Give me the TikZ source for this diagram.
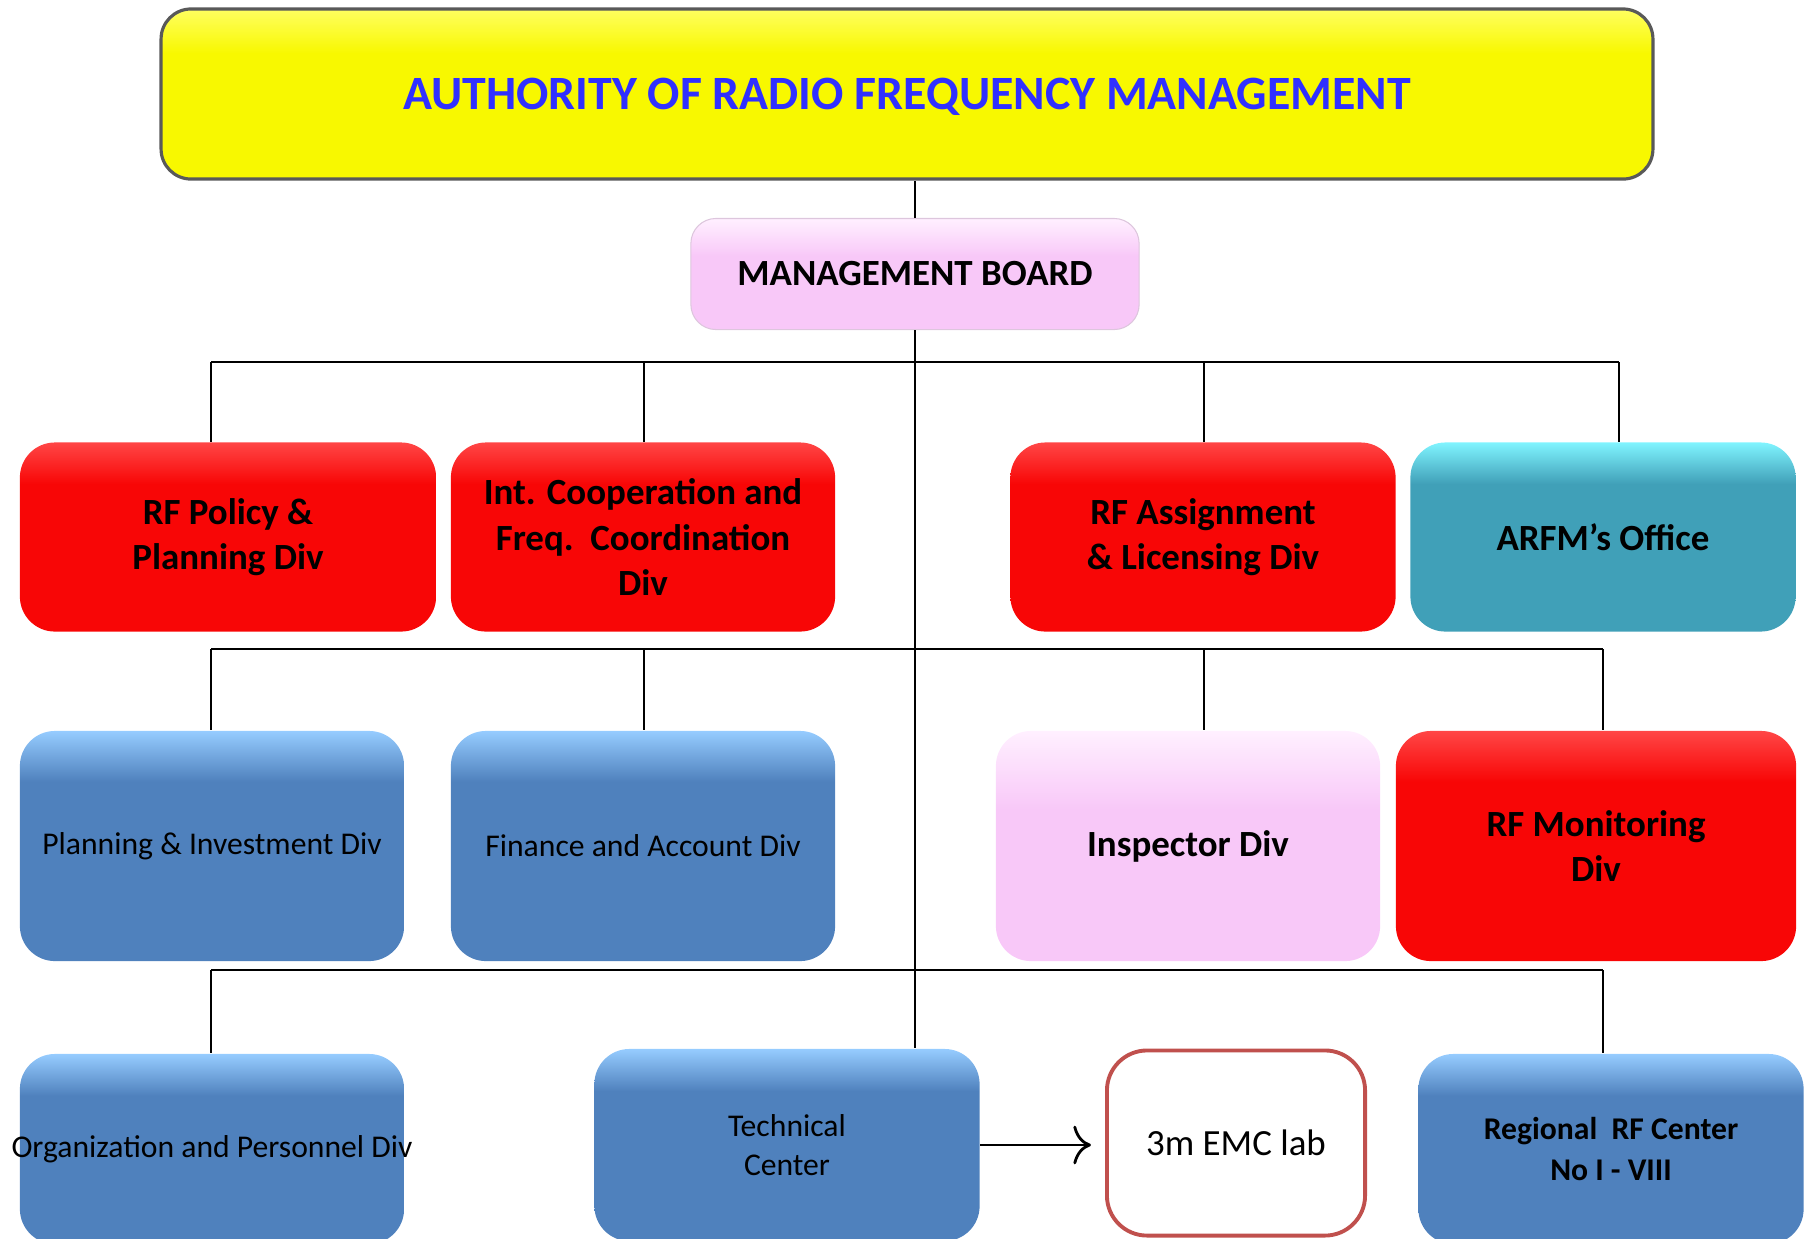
\documentclass[tikz,border=0pt]{standalone}
\usepackage{fontspec}
\setmainfont{Carlito}
\usepackage{tikz}
\usetikzlibrary{positioning,shapes,arrows,arrows.meta}
\definecolor{titlemain}{HTML}{F8F800}
\definecolor{titletop}{HTML}{FFFF60}
\definecolor{titletext}{HTML}{3030FF}
\definecolor{pinkmain}{HTML}{F8C8F8}
\definecolor{pinktop}{HTML}{FFF0FF}
\definecolor{redmain}{HTML}{F80606}
\definecolor{redtop}{HTML}{FF4646}
\definecolor{tealmain}{HTML}{40A0B8}
\definecolor{tealtop}{HTML}{80F4FF}
\definecolor{bluemain}{HTML}{4F81BD}
\definecolor{bluetop}{HTML}{96CCFF}
\definecolor{labedge}{HTML}{C0504D}
\pgfdeclareverticalshading{titlegloss}{100bp}{color(0bp)=(titlemain); color(25bp)=(titlemain); color(62bp)=(titlemain); color(75bp)=(titletop); color(100bp)=(titletop)}
\pgfdeclareverticalshading{pinkgloss}{100bp}{color(0bp)=(pinkmain); color(25bp)=(pinkmain); color(58bp)=(pinkmain); color(75bp)=(pinktop); color(100bp)=(pinktop)}
\pgfdeclareverticalshading{redgloss}{100bp}{color(0bp)=(redmain); color(25bp)=(redmain); color(64bp)=(redmain); color(75bp)=(redtop); color(100bp)=(redtop)}
\pgfdeclareverticalshading{tealgloss}{100bp}{color(0bp)=(tealmain); color(25bp)=(tealmain); color(64bp)=(tealmain); color(75bp)=(tealtop); color(100bp)=(tealtop)}
\pgfdeclareverticalshading{bluegloss}{100bp}{color(0bp)=(bluemain); color(25bp)=(bluemain); color(64bp)=(bluemain); color(75bp)=(bluetop); color(100bp)=(bluetop)}
\newcommand{\headfont}{\fontsize{13.6}{16}\selectfont\bfseries}
\newcommand{\divbold}{\fontsize{10.5}{12.8}\selectfont\bfseries}
\newcommand{\divplain}{\fontsize{9}{11}\selectfont}
\newcommand{\smallbold}{\fontsize{9}{11.4}\selectfont\bfseries}

\begin{document}
\begin{tikzpicture}[x=0.01cm, y=-0.01cm,
unit/.style={rectangle, rounded corners=0.35cm, align=center, inner sep=2pt, text=black},
headunit/.style={unit, rounded corners=0.3cm, shade, shading=titlegloss, draw=black!65, line width=0.9pt, text=titletext, font=\headfont, text depth=0pt, minimum width=14.91cm, minimum height=1.70cm},
boardunit/.style={unit, rounded corners=0.25cm, shade, shading=pinkgloss, draw=pinkmain!80!black!60, line width=0.3pt, font=\divbold, minimum width=4.48cm, minimum height=1.11cm},
redunit/.style={unit, shade, shading=redgloss, font=\divbold},
tealunit/.style={unit, shade, shading=tealgloss, font=\divbold},
blueunit/.style={unit, shade, shading=bluegloss, font=\divplain},
pinkunit/.style={unit, shade, shading=pinkgloss, font=\divbold},
labunit/.style={unit, rounded corners=0.4cm, fill=white, draw=labedge, line width=1.1pt, font=\fontsize{10.5}{12.8}\selectfont},
link/.style={draw=black, line width=0.4pt},
bus/.style={draw=black, line width=0.8pt}
]
\useasboundingbox (0,0) rectangle (1812,1238);
\clip (0,0) rectangle (1812,1238);

%Nodes
\node[headunit] (title) at (907,94) {AUTHORITY OF RADIO FREQUENCY MANAGEMENT};
\node[boardunit] (board) at (915,274) {MANAGEMENT BOARD};

\node[redunit, minimum width=4.16cm, minimum height=1.89cm] (policy) at (228,537) {RF Policy \&\\Planning Div};
\node[redunit, minimum width=3.84cm, minimum height=1.89cm] (coop) at (643,537) {Int. Cooperation and\\Freq.\ \ Coordination\\Div};
\node[redunit, minimum width=3.85cm, minimum height=1.89cm] (assign) at (1203,537) {RF Assignment\\\& Licensing Div};
\node[tealunit, minimum width=3.85cm, minimum height=1.89cm] (office) at (1603,537) {ARFM’s Office};

\node[blueunit, minimum width=3.84cm, minimum height=2.30cm] (planinv) at (212,846) {Planning \& Investment Div};
\node[blueunit, minimum width=3.84cm, minimum height=2.30cm] (finance) at (643,846) {Finance and Account Div};
\node[pinkunit, minimum width=3.84cm, minimum height=2.30cm] (inspector) at (1188,846) {Inspector Div};
\node[redunit, minimum width=4.00cm, minimum height=2.30cm] (monitor) at (1596,846) {RF Monitoring\\Div};

\node[blueunit, minimum width=3.84cm, minimum height=1.90cm, label={[font=\divplain]center:Organization and Personnel Div}] (orgpers) at (212,1149) {};
\node[blueunit, minimum width=3.85cm, minimum height=1.92cm] (technical) at (787,1145) {Technical\\Center};
\node[labunit, minimum width=2.58cm, minimum height=1.85cm] (emc) at (1236,1143) {3m EMC lab};
\node[blueunit, font=\smallbold, minimum width=3.85cm, minimum height=1.90cm] (regional) at (1611,1149) {Regional\ \ RF Center\\No I - VIII};

\coordinate (p1) at (211,362);
\coordinate (p2) at (644,362);
\coordinate (p3) at (1204,362);
\coordinate (p4) at (1619,362);
\coordinate (q1) at (211,649);
\coordinate (q2) at (644,649);
\coordinate (q3) at (1204,649);
\coordinate (q4) at (1603,649);
\coordinate (r1) at (211,970);
\coordinate (r4) at (1603,970);

%Connections
\draw[link] (board.north) -- (board.north |- title.south);
\draw[link] (board.south) -- (board.south |- technical.north);

\draw[bus] (p1) -- (p4);
\draw[link] (p1) -- (p1 |- policy.north);
\draw[link] (p2) -- (p2 |- coop.north);
\draw[link] (p3) -- (p3 |- assign.north);
\draw[link] (p4) -- (p4 |- office.north);

\draw[bus] (q1) -- (q4);
\draw[link] (q1) -- (q1 |- planinv.north);
\draw[link] (q2) -- (q2 |- finance.north);
\draw[link] (q3) -- (q3 |- inspector.north);
\draw[link] (q4) -- (q4 |- monitor.north);

\draw[bus] (r1) -- (r4);
\draw[link] (r1) -- (r1 |- orgpers.north);
\draw[link] (r4) -- (r4 |- regional.north);

\draw[-{To[length=5pt,width=11pt]}, line width=0.8pt, shorten >=4pt] (technical.east) -- (technical.east -| emc.west);
\end{tikzpicture}
\end{document}
